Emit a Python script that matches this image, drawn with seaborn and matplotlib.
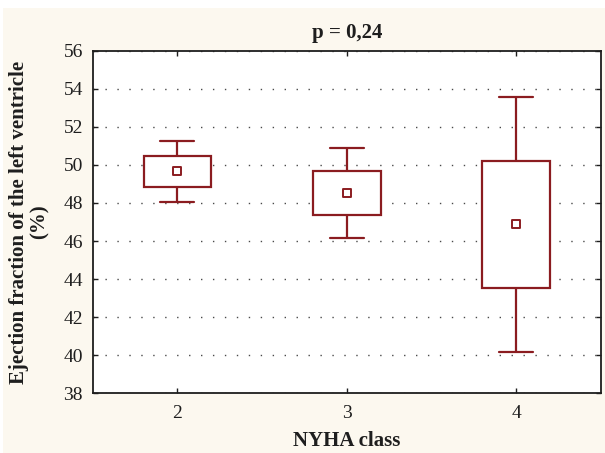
import numpy as np
import pandas as pd
import matplotlib
matplotlib.use("Agg")
import matplotlib.pyplot as plt
from matplotlib.patches import Rectangle
import seaborn as sns

# Ejection fraction summary per NYHA class
nyha_class = ["2", "3", "4"]
whisker_low = [48.05, 46.15, 40.18]
box_low = [48.85, 47.35, 43.53]
centre = [49.67, 48.50, 46.88]
box_high = [50.45, 49.70, 50.20]
whisker_high = [51.25, 50.88, 53.57]
y_ticks = [38, 40, 42, 44, 46, 48, 50, 52, 54, 56]

title_text = "p = 0,24"
x_label = "NYHA class"
y_label = "Ejection fraction of the left ventricle\n(%)"

BOX_RED = "#8b1c20"
INK = "#1e1e1e"
PAPER = "#fcf8ef"

sns.set_theme(style="white")
plt.rcParams["font.family"] = ["Liberation Serif", "DejaVu Serif"]

# Five ordered values per class give the quartiles and whisker ends directly
rows = []
for cls, lo, q1, c, q3, hi in zip(nyha_class, whisker_low, box_low, centre,
                                  box_high, whisker_high):
    for v in (lo, q1, c, q3, hi):
        rows.append({"NYHA class": cls, "EF": v})
df = pd.DataFrame(rows)

W, H = 605, 453
fig = plt.figure(figsize=(W / 100, H / 100), dpi=100, facecolor="white")
fig.add_artist(Rectangle((3 / W, 0), 1, 1 - 8 / H, transform=fig.transFigure,
                         facecolor=PAPER, edgecolor="none", zorder=-5))

left, right, top, bottom = 92.7, 601, 50.7, 393.3
ax = fig.add_axes([left / W, 1 - bottom / H, (right - left) / W, (bottom - top) / H])
ax.set_facecolor("white")

ax.yaxis.grid(True, color="#4a4a4a", linestyle=(0, (1, 7.6)), linewidth=1.0)
ax.xaxis.grid(False)
ax.set_axisbelow(True)

sns.boxplot(data=df, x="NYHA class", y="EF", order=nyha_class, ax=ax,
            color="white", linecolor=BOX_RED, linewidth=1.6, width=0.4,
            whis=np.inf, saturation=1,
            medianprops={"visible": False})

sns.stripplot(x=nyha_class, y=centre, order=nyha_class, ax=ax, jitter=False,
              marker="s", size=5.5, color="white", edgecolor=BOX_RED,
              linewidth=1.4, zorder=5)

ax.set_xlim(-0.5, 2.5)
ax.set_ylim(38, 56)
ax.set_yticks(y_ticks)
ax.set_yticklabels([str(t) for t in y_ticks])

for s in ax.spines.values():
    s.set_visible(True)
    s.set_color(INK)
    s.set_linewidth(1.3)

ax.tick_params(axis="both", direction="in", length=3.5, width=1.0, color=INK,
               labelsize=14, labelcolor=INK, pad=7,
               bottom=True, top=True, left=True, right=True)
ax.tick_params(axis="x", pad=8.5)

ax.set_title(title_text, fontsize=15, fontweight="bold", color=INK, pad=9.5)
ax.set_xlabel(x_label, fontsize=15, fontweight="bold", color=INK, labelpad=6.5)
ax.set_ylabel(y_label, fontsize=15, fontweight="bold", color=INK,
              labelpad=10, linespacing=1.0)

fig.savefig("out.png", dpi=100, facecolor=fig.get_facecolor())
